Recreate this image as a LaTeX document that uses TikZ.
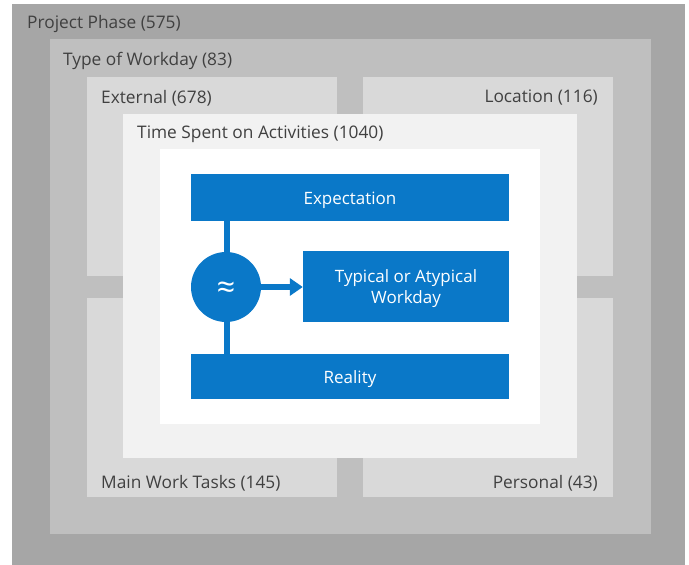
\documentclass[tikz,border=0pt]{standalone}
\usepackage{fontspec}
\setmainfont{Open Sans}
\usetikzlibrary{arrows.meta}
\definecolor{g1}{HTML}{A6A6A6}
\definecolor{g2}{HTML}{BFBFBF}
\definecolor{g3}{HTML}{D9D9D9}
\definecolor{g4}{HTML}{F2F2F2}
\definecolor{bl}{HTML}{0A78C8}
\definecolor{tx}{HTML}{404040}
\begin{document}
\begin{tikzpicture}[x=1pt,y=-1pt,
  lbl/.style={font=\fontsize{17.3}{20}\selectfont, text=tx, inner sep=0pt},
  bbox/.style={fill=bl, inner sep=0pt},
  btxt/.style={text=white, font=\fontsize{17}{21}\selectfont, align=center, inner sep=0pt, yshift=-2.5pt},
  conn/.style={draw=bl, line width=5.5pt}]
\useasboundingbox (0,0) rectangle (689,565);
\fill[white] (0,0) rectangle (689,565);
% nested boxes
\fill[g1] (12,4) rectangle (685,565);
\fill[g2] (50,39) rectangle (651,534);
\fill[g3] (87,77) rectangle (337,276);
\fill[g3] (363,77) rectangle (613,276);
\fill[g3] (87,298) rectangle (337,497);
\fill[g3] (363,298) rectangle (613,497);
\fill[g4] (123,114) rectangle (577,458);
\fill[white] (160,149) rectangle (540,424);
% labels
\node[lbl, anchor=west] (pp) at (27,24) {Project Phase (575)};
\node[lbl, anchor=west] (tw) at (63,61) {Type of Workday (83)};
\node[lbl, anchor=west] (ex) at (101,98) {External (678)};
\node[lbl, anchor=east] (lo) at (598,98) {Location (116)};
\node[lbl, anchor=west] (ts) at (137,134) {Time Spent on Activities (1040)};
\node[lbl, anchor=west] (mw) at (101,483) {Main Work Tasks (145)};
\node[lbl, anchor=east] (pe) at (598,483) {Personal (43)};
% blue elements
\node[bbox, minimum width=318pt, minimum height=47pt,
  label={[btxt]center:Expectation}] (exp) at (350,197.5) {};
\node[bbox, minimum width=318pt, minimum height=45pt,
  label={[btxt]center:Reality}] (rea) at (350,376.5) {};
\node[bbox, minimum width=206pt, minimum height=71pt,
  label={[btxt]center:Typical or Atypical\\Workday}] (typ) at (406,286.5) {};
\draw[conn] (227,220) -- (227,354);
\node[circle, fill=bl, minimum size=70pt, inner sep=0pt,
  label={[text=white, inner sep=0pt, font=\fontsize{32}{32}\selectfont, yshift=-3pt]center:≈}] (cir) at (226,287) {};
\draw[conn, -{Triangle[length=13pt, width=17pt]}] (cir.east) -- (typ.west |- cir.east);
\end{tikzpicture}
\end{document}
